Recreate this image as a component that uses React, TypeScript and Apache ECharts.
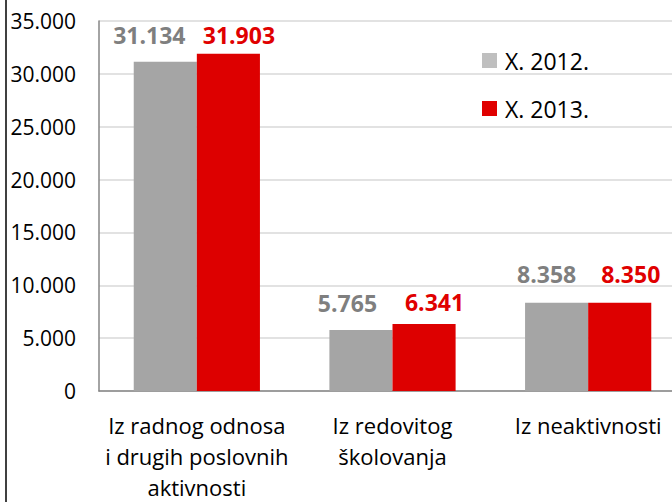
import React, { useEffect, useRef } from "react";
import * as echarts from "echarts";

const categories = [
  "Iz radnog odnosa\ni drugih poslovnih\naktivnosti",
  "Iz redovitog\nškolovanja",
  "Iz neaktivnosti",
];
const series2012 = [31134, 5765, 8358];
const series2013 = [31903, 6341, 8350];
const seriesNames = ["X. 2012.", "X. 2013."];

// manual label placement (layout only)
const labelOffsets2012 = [[-16, -15], [-13.5, -15.5], [-10, -17.5]];
const labelOffsets2013 = [[10.5, -7.5], [10.5, -10.5], [11, -17.5]];

const FONT = "Open Sans";
const fmt = (v: number) => {
  const s = String(Math.round(v));
  return s.replace(/\B(?=(\d{3})+(?!\d))/g, ".");
};

export default function App() {
  const ref = useRef<HTMLDivElement>(null);
  useEffect(() => {
    if (!ref.current) return;
    const chart = echarts.init(ref.current, null, { renderer: "svg" });
    const labelBase = {
      show: true,
      position: "top",
      distance: 0,
      fontFamily: FONT,
      fontSize: 23,
      fontWeight: "bold",
      formatter: (p: any) => fmt(p.value),
    };
    chart.setOption({
      animation: false,
      backgroundColor: "#ffffff",
      textStyle: { fontFamily: FONT },
      grid: { left: 99, top: 21, bottom: 109, right: 14, containLabel: false },
      legend: {
        orient: "vertical",
        left: 482,
        top: 49,
        padding: 0,
        itemWidth: 15,
        itemHeight: 15,
        itemGap: 25,
        icon: "rect",
        textStyle: {
          fontFamily: FONT,
          fontSize: 23,
          color: "#000000",
          padding: [0, 0, 0, 3],
        },
        data: [
          { name: seriesNames[0], itemStyle: { color: "#BFBFBF" } },
          { name: seriesNames[1], itemStyle: { color: "#E00000" } },
        ],
      },
      xAxis: {
        type: "category",
        data: categories,
        axisLine: { lineStyle: { color: "#868686", width: 1.5 } },
        axisTick: { show: false },
        axisLabel: {
          fontFamily: FONT,
          fontSize: 22,
          color: "#000000",
          margin: 18,
          lineHeight: 31,
          interval: 0,
        },
      },
      yAxis: {
        type: "value",
        min: 0,
        max: 35000,
        interval: 5000,
        axisLine: { show: true, lineStyle: { color: "#868686", width: 1.5 } },
        axisTick: { show: false },
        splitLine: { lineStyle: { color: "#D9D9D9", width: 1.5 } },
        axisLabel: {
          fontFamily: FONT,
          fontSize: 21,
          color: "#000000",
          margin: 23,
          formatter: (v: number) => fmt(v),
        },
      },
      series: [
        {
          name: seriesNames[0],
          type: "bar",
          data: series2012.map((v, i) => ({
            value: v,
            label: { offset: labelOffsets2012[i] },
          })),
          barGap: "0%",
          barCategoryGap: "35.5%",
          itemStyle: { color: "#A5A5A5" },
          label: { ...labelBase, color: "#7F7F7F" },
        },
        {
          name: seriesNames[1],
          type: "bar",
          data: series2013.map((v, i) => ({
            value: v,
            label: { offset: labelOffsets2013[i] },
          })),
          itemStyle: { color: "#DD0000" },
          label: { ...labelBase, color: "#E00000" },
        },
      ],
      graphic: [
        {
          type: "line",
          shape: { x1: 6, y1: 0, x2: 6, y2: 502 },
          style: { stroke: "#000000", lineWidth: 1.5 },
        },
      ],
    });
    return () => chart.dispose();
  }, []);
  return (
    <div
      ref={ref}
      style={{ position: "fixed", left: 0, top: 0, width: 700, height: 502 }}
    />
  );
}
